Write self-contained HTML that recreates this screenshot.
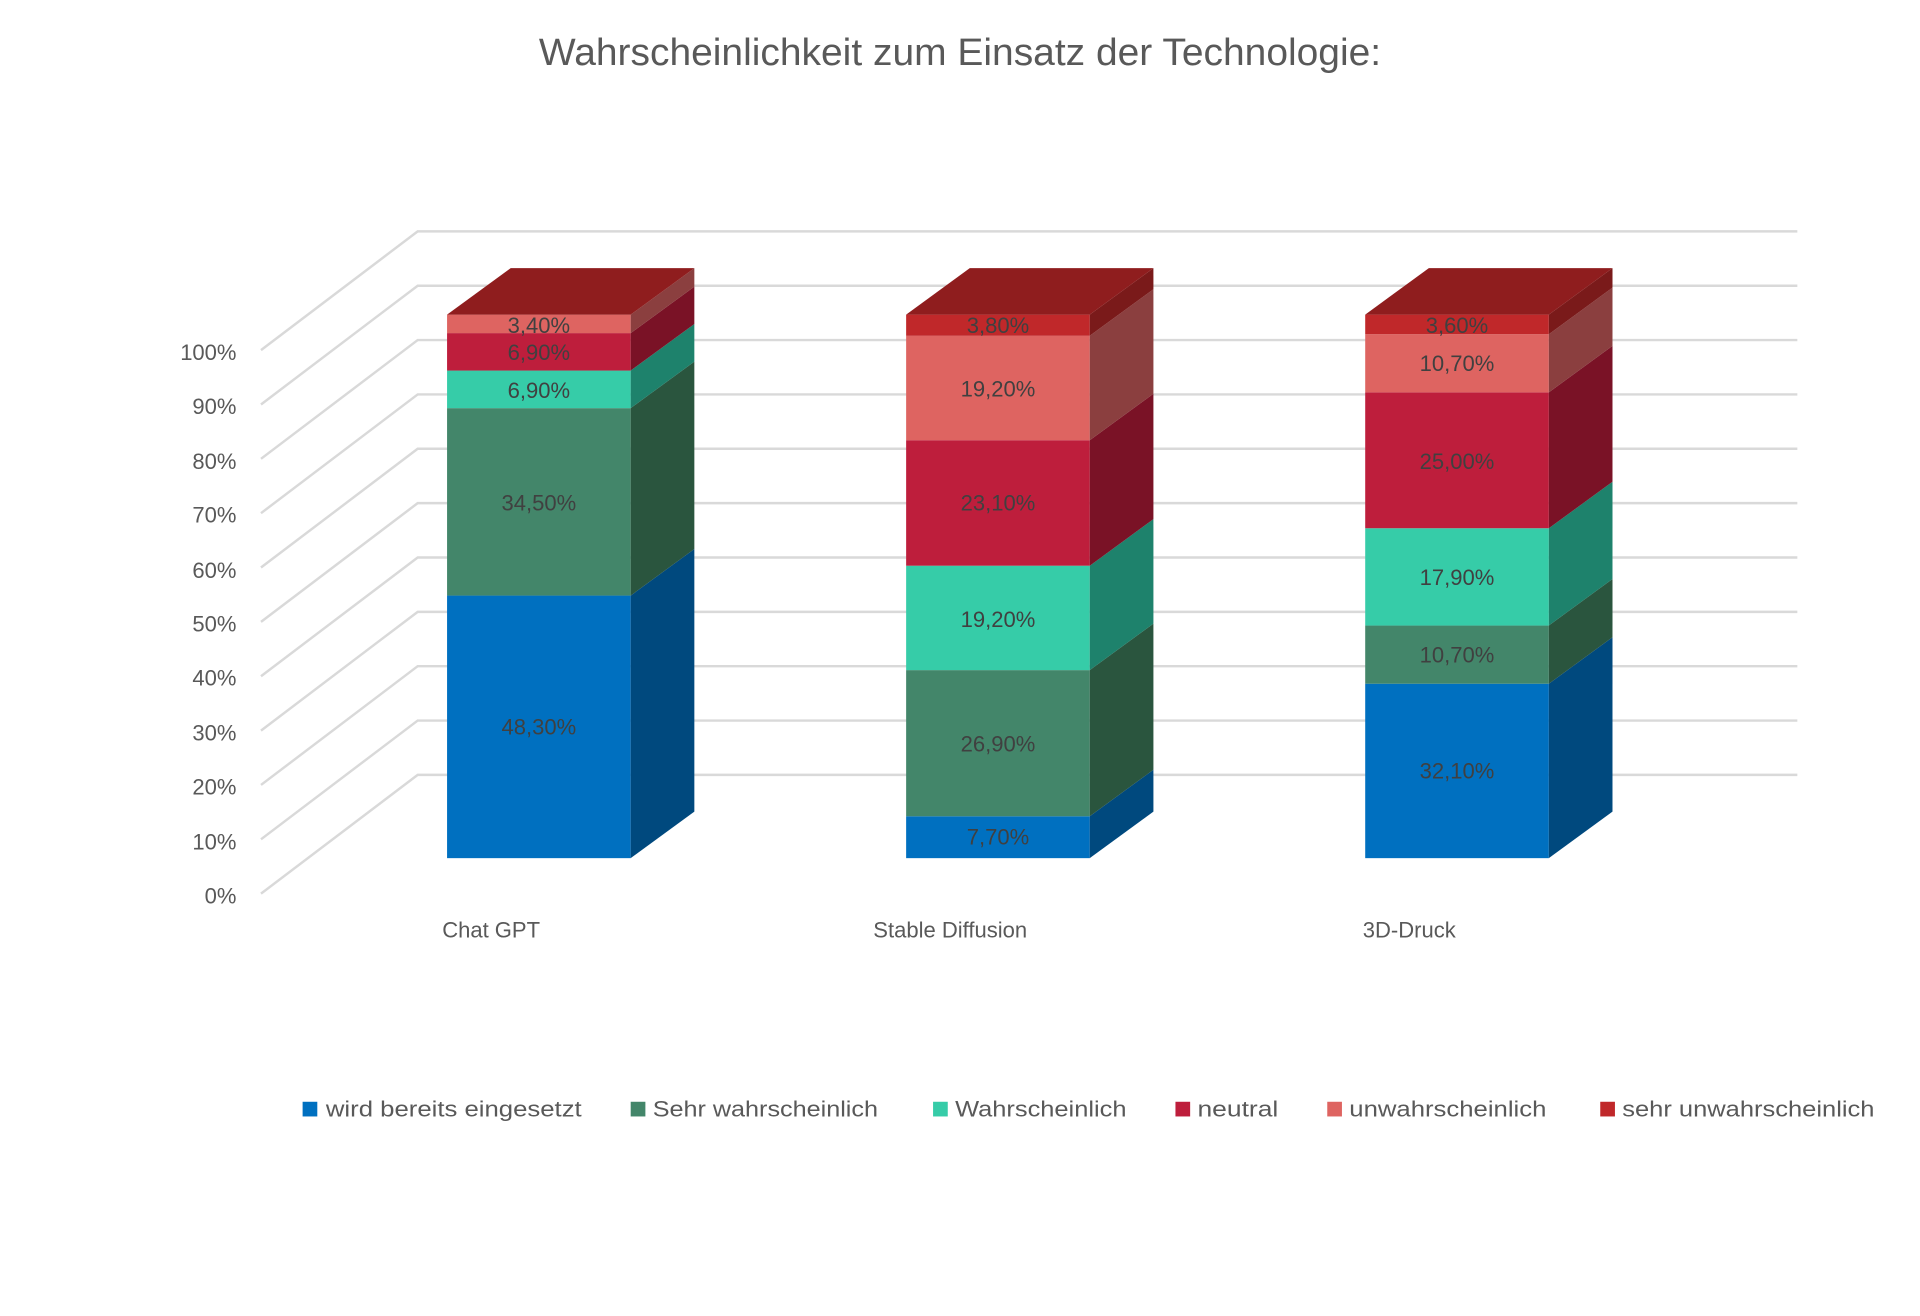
<!DOCTYPE html>
<html><head><meta charset="utf-8"><style>
html,body{margin:0;padding:0;background:#fff;}
svg{display:block;font-family:"Liberation Sans",sans-serif;}
</style></head><body>
<svg width="1920" height="1316" viewBox="0 0 1568 1075" xmlns="http://www.w3.org/2000/svg">
<rect width="1568" height="1075" fill="#fff"/>
<text x="784" y="53" text-anchor="middle" font-size="31" fill="#595959" textLength="688" lengthAdjust="spacingAndGlyphs">Wahrscheinlichkeit zum Einsatz der Technologie:</text>
<g stroke="#d9d9d9" stroke-width="2" fill="none">
<polyline points="213,730 341,633 1468,633"/>
<polyline points="213,685.6 341,588.6 1468,588.6"/>
<polyline points="213,641.2 341,544.2 1468,544.2"/>
<polyline points="213,596.8 341,499.8 1468,499.8"/>
<polyline points="213,552.4 341,455.4 1468,455.4"/>
<polyline points="213,508 341,411 1468,411"/>
<polyline points="213,463.6 341,366.6 1468,366.6"/>
<polyline points="213,419.2 341,322.2 1468,322.2"/>
<polyline points="213,374.8 341,277.8 1468,277.8"/>
<polyline points="213,330.4 341,233.4 1468,233.4"/>
<polyline points="213,286 341,189 1468,189"/>
</g>
<g font-size="18" fill="#595959" text-anchor="end">
<text x="193" y="738">0%</text><text x="193" y="694">10%</text><text x="193" y="649">20%</text><text x="193" y="605">30%</text><text x="193" y="560">40%</text><text x="193" y="516">50%</text><text x="193" y="472">60%</text><text x="193" y="427">70%</text><text x="193" y="383">80%</text><text x="193" y="338">90%</text><text x="193" y="294">100%</text>
</g>
<!-- Chat GPT -->
<g>
<rect x="365" y="486.5" width="150" height="214.5" fill="#0070c0"/>
<polygon points="515,701 515,486.5 567,448.5 567,663" fill="#00497e"/>
<rect x="365" y="333.4" width="150" height="153.1" fill="#43866a"/>
<polygon points="515,486.5 515,333.4 567,295.4 567,448.5" fill="#2a553e"/>
<rect x="365" y="302.7" width="150" height="30.7" fill="#36cca8"/>
<polygon points="515,333.4 515,302.7 567,264.7 567,295.4" fill="#1e826c"/>
<rect x="365" y="272.1" width="150" height="30.6" fill="#be1e3c"/>
<polygon points="515,302.7 515,272.1 567,234.1 567,264.7" fill="#7a1226"/>
<rect x="365" y="257" width="150" height="15.1" fill="#de6461"/>
<polygon points="515,272.1 515,257 567,219 567,234.1" fill="#8b3f3f"/>
<polygon points="365,257 515,257 567,219 417,219" fill="#8f1d1e"/>
</g>
<!-- Stable Diffusion -->
<g>
<rect x="740" y="666.8" width="150" height="34.2" fill="#0070c0"/>
<polygon points="890,701 890,666.8 942,628.8 942,663" fill="#00497e"/>
<rect x="740" y="547.4" width="150" height="119.4" fill="#43866a"/>
<polygon points="890,666.8 890,547.4 942,509.4 942,628.8" fill="#2a553e"/>
<rect x="740" y="462.1" width="150" height="85.3" fill="#36cca8"/>
<polygon points="890,547.4 890,462.1 942,424.1 942,509.4" fill="#1e826c"/>
<rect x="740" y="359.6" width="150" height="102.5" fill="#be1e3c"/>
<polygon points="890,462.1 890,359.6 942,321.6 942,424.1" fill="#7a1226"/>
<rect x="740" y="274.3" width="150" height="85.3" fill="#de6461"/>
<polygon points="890,359.6 890,274.3 942,236.3 942,321.6" fill="#8b3f3f"/>
<rect x="740" y="257" width="150" height="17.3" fill="#c0282a"/>
<polygon points="890,274.3 890,257 942,219 942,236.3" fill="#7a1a1a"/>
<polygon points="740,257 890,257 942,219 792,219" fill="#8f1d1e"/>
</g>
<!-- 3D-Druck -->
<g>
<rect x="1115" y="558.5" width="150" height="142.5" fill="#0070c0"/>
<polygon points="1265,701 1265,558.5 1317,520.5 1317,663" fill="#00497e"/>
<rect x="1115" y="511" width="150" height="47.5" fill="#43866a"/>
<polygon points="1265,558.5 1265,511 1317,473 1317,520.5" fill="#2a553e"/>
<rect x="1115" y="431.5" width="150" height="79.5" fill="#36cca8"/>
<polygon points="1265,511 1265,431.5 1317,393.5 1317,473" fill="#1e826c"/>
<rect x="1115" y="320.5" width="150" height="111" fill="#be1e3c"/>
<polygon points="1265,431.5 1265,320.5 1317,282.5 1317,393.5" fill="#7a1226"/>
<rect x="1115" y="273" width="150" height="47.5" fill="#de6461"/>
<polygon points="1265,320.5 1265,273 1317,235 1317,282.5" fill="#8b3f3f"/>
<rect x="1115" y="257" width="150" height="16" fill="#c0282a"/>
<polygon points="1265,273 1265,257 1317,219 1317,235" fill="#7a1a1a"/>
<polygon points="1115,257 1265,257 1317,219 1167,219" fill="#8f1d1e"/>
</g>
<g font-size="18" fill="#404040" text-anchor="middle">
<text x="440" y="600">48,30%</text>
<text x="440" y="417">34,50%</text>
<text x="440" y="325">6,90%</text>
<text x="440" y="294">6,90%</text>
<text x="440" y="272">3,40%</text>
<text x="815" y="690">7,70%</text>
<text x="815" y="614">26,90%</text>
<text x="815" y="512">19,20%</text>
<text x="815" y="417">23,10%</text>
<text x="815" y="324">19,20%</text>
<text x="815" y="272">3,80%</text>
<text x="1190" y="636">32,10%</text>
<text x="1190" y="541">10,70%</text>
<text x="1190" y="478">17,90%</text>
<text x="1190" y="383">25,00%</text>
<text x="1190" y="303">10,70%</text>
<text x="1190" y="272">3,60%</text>
</g>
<g font-size="18" fill="#595959" text-anchor="middle">
<text x="401" y="766">Chat GPT</text>
<text x="776" y="766">Stable Diffusion</text>
<text x="1151" y="766">3D-Druck</text>
</g>
<g font-size="18" fill="#595959">
<rect x="247" y="900" width="12" height="12" fill="#0070c0"/><text x="266" y="912" textLength="209" lengthAdjust="spacingAndGlyphs">wird bereits eingesetzt</text>
<rect x="515" y="900" width="12" height="12" fill="#43866a"/><text x="533" y="912" textLength="184" lengthAdjust="spacingAndGlyphs">Sehr wahrscheinlich</text>
<rect x="762" y="900" width="12" height="12" fill="#36cca8"/><text x="780" y="912" textLength="140" lengthAdjust="spacingAndGlyphs">Wahrscheinlich</text>
<rect x="960" y="900" width="12" height="12" fill="#be1e3c"/><text x="978" y="912" textLength="66" lengthAdjust="spacingAndGlyphs">neutral</text>
<rect x="1084" y="900" width="12" height="12" fill="#de6461"/><text x="1102" y="912" textLength="161" lengthAdjust="spacingAndGlyphs">unwahrscheinlich</text>
<rect x="1307" y="900" width="12" height="12" fill="#c0282a"/><text x="1325" y="912" textLength="206" lengthAdjust="spacingAndGlyphs">sehr unwahrscheinlich</text>
</g>
</svg>
</body></html>
